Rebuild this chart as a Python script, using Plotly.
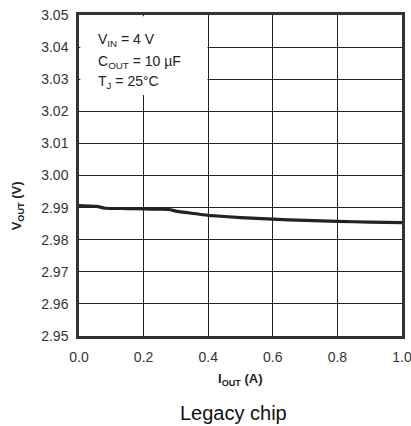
import plotly.graph_objects as go

# Data
i_out = [0.0, 0.03, 0.055, 0.08, 0.15, 0.2, 0.25, 0.28, 0.3, 0.4, 0.5, 0.6, 0.7, 0.8, 0.9, 1.0]
v_out = [2.9906, 2.9905, 2.9904, 2.9898, 2.9897, 2.9896, 2.9895, 2.9894, 2.9889, 2.9876,
         2.9869, 2.9864, 2.9860, 2.9857, 2.9855, 2.9853]
x_ticks = [0.0, 0.2, 0.4, 0.6, 0.8, 1.0]
y_ticks = [2.95, 2.96, 2.97, 2.98, 2.99, 3.00, 3.01, 3.02, 3.03, 3.04, 3.05]
cond_lines = ["V<sub>IN</sub> = 4 V", "C<sub>OUT</sub> = 10 µF", "T<sub>J</sub> = 25°C"]
cond_y = [3.0422, 3.0355, 3.0292]

FONT = "Liberation Sans, Arial, sans-serif"

fig = go.Figure()
fig.add_trace(go.Scatter(x=i_out, y=v_out, mode="lines",
                         line=dict(color="#222222", width=3.2, shape="spline", smoothing=0.3),
                         showlegend=False, hoverinfo="skip", cliponaxis=True))

fig.add_shape(type="rect", xref="x", yref="y", x0=0.004, x1=0.398, y0=3.0251, y1=3.0496,
              fillcolor="white", line=dict(width=0), layer="between")

for txt, yv in zip(cond_lines, cond_y):
    fig.add_annotation(x=0.053, y=yv, xref="x", yref="y", text=txt, showarrow=False,
                       xanchor="left", yanchor="middle",
                       font=dict(family=FONT, size=14, color="#222222"))

fig.add_annotation(x=0.5, y=-0.137, xref="paper", yref="paper", text="I<sub>OUT</sub> (A)",
                   showarrow=False, xanchor="center", yanchor="middle",
                   font=dict(family=FONT, size=13, color="#222222", weight="bold"))
fig.add_annotation(x=-0.19, y=0.406, xref="paper", yref="paper", text="V<sub>OUT</sub> (V)",
                   showarrow=False, xanchor="center", yanchor="middle", textangle=-90,
                   font=dict(family=FONT, size=13, color="#222222", weight="bold"))
fig.add_annotation(x=0.477, y=-0.24, xref="paper", yref="paper", text="Legacy chip",
                   showarrow=False, xanchor="center", yanchor="middle",
                   font=dict(family=FONT, size=20, color="#111111"))

fig.update_xaxes(range=[0, 1], tickvals=x_ticks, ticktext=[f"{v:.1f}" for v in x_ticks],
                 showgrid=True, gridcolor="#222222", gridwidth=1, zeroline=False,
                 showline=True, linecolor="#333333", linewidth=2.5, mirror=True,
                 ticks="outside", ticklen=6, tickcolor="rgba(0,0,0,0)", automargin=False,
                 ticklabeloverflow="allow",
                 tickfont=dict(family=FONT, size=14, color="#333333"))
fig.update_yaxes(range=[2.95, 3.05], tickvals=y_ticks, ticktext=[f"{v:.2f}" for v in y_ticks],
                 showgrid=True, gridcolor="#222222", gridwidth=1, zeroline=False,
                 showline=True, linecolor="#333333", linewidth=2.5, mirror=True,
                 ticks="outside", ticklen=5, tickcolor="rgba(0,0,0,0)", automargin=False,
                 ticklabeloverflow="allow",
                 tickfont=dict(family=FONT, size=14, color="#333333"))

fig.update_layout(width=411, height=426, margin=dict(l=79, r=9, t=15, b=90),
                  plot_bgcolor="white", paper_bgcolor="white", showlegend=False)

fig.write_html("out.html", config={"displayModeBar": False},
               post_script="document.body.style.margin='0px';document.body.style.overflow='hidden';")
